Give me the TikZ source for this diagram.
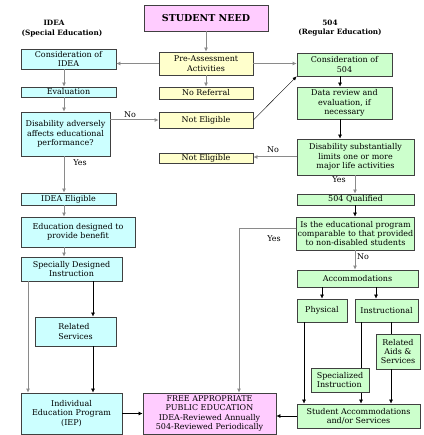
\documentclass[tikz,border=0pt]{standalone}
\usepackage{fontspec}
\setmainfont{DejaVu Serif}
\usetikzlibrary{arrows.meta}
\definecolor{cyanbox}{HTML}{CCFFFF}
\definecolor{yellowbox}{HTML}{FFFFCC}
\definecolor{greenbox}{HTML}{CCFFCC}
\definecolor{pinkbox}{HTML}{FFCCFF}
\definecolor{edge}{HTML}{404040}
\definecolor{linkgray}{HTML}{8A8A8A}

\begin{document}
\begin{tikzpicture}[x=1pt,y=-1pt,
  box/.style={draw=edge,line width=0.8pt,inner xsep=1pt,inner ysep=0.5pt,align=center,
    font=\fontsize{8}{9.3}\selectfont},
  ideabox/.style={box,fill=cyanbox},
  prebox/.style={box,fill=yellowbox},
  regbox/.style={box,fill=greenbox},
  fapebox/.style={box,fill=pinkbox},
  arrgray/.style={draw=linkgray,line width=1pt,-{Latex[length=4pt,width=4pt]}},
  arrblack/.style={draw=black,line width=0.6pt,-{Latex[length=4pt,width=4pt]}},
  lbl/.style={font=\fontsize{8}{9}\selectfont,inner sep=0pt},
  headtxt/.style={font=\bfseries\fontsize{7.3}{8.5}\selectfont,inner sep=0pt}]
  \useasboundingbox (0,0) rectangle (423,435);

  % columns for the connectors
  \coordinate (xL) at (64,0);
  \coordinate (xA) at (28,0);
  \coordinate (xB) at (93,0);
  \coordinate (xM) at (340,0);
  \coordinate (xR) at (355,0);
  \coordinate (xF) at (239,0);
  \coordinate (xP) at (304,0);
  \coordinate (xI) at (376,0);
  \coordinate (xS) at (361,0);
  \coordinate (xT) at (391,0);
  \coordinate (yYes) at (0,228);

  % headings
  \node[headtxt] (ideaHd) at (54,23) {IDEA};
  \node[headtxt] (ideaSub) at (62,33) {(Special Education)};
  \node[headtxt] (regHd) at (330,23) {504};
  \node[headtxt] (regSub) at (340,33) {(Regular Education)};

  % middle
  \node[fapebox,minimum width=124,minimum height=26,
    font=\bfseries\fontsize{9.5}{11}\selectfont] (need) at (206,18) {STUDENT NEED};
  \node[prebox,minimum width=94,minimum height=23] (pre) at (206,63.5) {Pre-Assessment\\Activities};
  \node[prebox,minimum width=94,minimum height=12] (noRef) at (206,93) {No Referral};
  \node[prebox,minimum width=94,minimum height=16] (notElA) at (206,120) {Not Eligible};
  \node[prebox,minimum width=94,minimum height=10] (notElB) at (206,158) {Not Eligible};
  \node[fapebox,minimum width=133,minimum height=41] (fape) at (209.5,413.5)
    {FREE APPROPRIATE\\PUBLIC EDUCATION\\IDEA-Reviewed Annually\\504-Reviewed Periodically};

  % IDEA side
  \node[ideabox,minimum width=95,minimum height=20] (consIdea) at (68.5,59) {Consideration of\\IDEA};
  \node[ideabox,minimum width=95,minimum height=10] (evalu) at (68.5,92) {Evaluation};
  \node[ideabox,minimum width=89,minimum height=44] (disA) at (65.5,134)
    {Disability adversely\\affects educational\\performance?};
  \node[ideabox,minimum width=95,minimum height=12] (ideaEl) at (68.5,199) {IDEA Eligible};
  \node[ideabox,minimum width=114,minimum height=30] (eduDes) at (78,232)
    {Education designed to\\provide benefit};
  \node[ideabox,minimum width=101,minimum height=24] (sdi) at (71.5,269)
    {Specially Designed\\Instruction};
  \node[ideabox,minimum width=81,minimum height=29,align=left] (relSrv) at (75.5,331.5)
    {Related\\Services};
  \node[ideabox,minimum width=101,minimum height=41] (iep) at (71.5,413.5)
    {Individual\\Education Program\\(IEP)};

  % 504 side
  \node[regbox,minimum width=95,minimum height=23] (cons504) at (344.5,64.5) {Consideration of\\504};
  \node[regbox,minimum width=95,minimum height=32] (dataRev) at (344.5,103)
    {Data review and\\evaluation, if\\necessary};
  \node[regbox,minimum width=117,minimum height=36] (disS) at (355.5,157)
    {Disability substantially\\limits one or more\\major life activities};
  \node[regbox,minimum width=117,minimum height=11] (q504) at (355.5,199.5) {504 Qualified};
  \node[regbox,minimum width=117,minimum height=33] (isEdu) at (355.5,233.5)
    {Is the educational program\\comparable to that provided\\to non-disabled students};
  \node[regbox,minimum width=121,minimum height=17] (accom) at (357.5,278.5) {Accommodations};
  \node[regbox,minimum width=50,minimum height=23] (phys) at (322,310.5) {Physical};
  \node[regbox,minimum width=63,minimum height=23] (instr) at (386.5,310.5) {Instructional};
  \node[regbox,minimum width=44,minimum height=35] (relAids) at (398,351.5) {Related\\Aids \&\\Services};
  \node[regbox,minimum width=123,minimum height=24] (stuAcc) at (358.5,416)
    {Student Accommodations\\and/or Services};

  % connectors
  \draw[arrgray] (need) -- (pre);
  \draw[arrgray] (pre.west) -- (pre.west -| consIdea.east);
  \draw[arrgray] (pre.east) -- (pre.east -| cons504.west);
  \draw[arrgray] (pre) -- (noRef);
  \draw[arrgray] (disA.east |- notElA.west) -- (notElA.west);
  \node[lbl] (noA) at (130,115) {No};
  \draw[line width=0.4pt,-{Latex[length=4pt,width=3.5pt]}] (notElA.east) -- (cons504.south west);

  \draw[arrgray] (consIdea.south -| xL) -- (evalu.north -| xL);
  \draw[arrgray] (evalu.south -| xL) -- (disA.north -| xL);
  \draw[arrgray] (disA.south -| xL) -- (ideaEl.north -| xL);
  \node[lbl] (yesA) at (80,163) {Yes};
  \draw[arrgray] (ideaEl.south -| xL) -- (eduDes.north -| xL);
  \draw[arrgray] (eduDes.south -| xL) -- (sdi.north -| xL);
  \draw[arrgray] (sdi.south -| xA) -- (iep.north -| xA);
  \draw[arrblack] (sdi.south -| xB) -- (relSrv.north -| xB);
  \draw[arrblack] (relSrv.south -| xB) -- (iep.north -| xB);
  \draw[arrblack] (iep.east) -- (fape.west);

  \draw[arrblack] (cons504.south -| xM) -- (dataRev.north -| xM);
  \draw[arrblack] (dataRev.south -| xM) -- (disS.north -| xM);
  \draw[arrgray] (disS.west) -- (disS.west -| notElB.east);
  \node[lbl] (noB) at (273,150) {No};
  \draw[arrgray] (disS.south -| xR) -- (q504.north -| xR);
  \node[lbl] (yesB) at (339,180) {Yes};
  \draw[arrblack] (q504.south -| xR) -- (isEdu.north -| xR);
  \draw[arrgray] (isEdu.south -| xR) -- (accom.north -| xR);
  \node[lbl,anchor=west] (noC) at (357,257) {No};
  \draw[arrgray] (isEdu.west |- yYes) -| (fape.north -| xF);
  \node[lbl] (yesC) at (274,239) {Yes};

  \draw[arrblack] (accom.south -| phys.north) -- (phys.north);
  \draw[arrblack] (accom.south -| xI) -- (instr.north -| xI);
  \draw[arrblack] (phys.south -| xP) -- (stuAcc.north -| xP);
  \draw[arrblack] (instr.south -| xS) -- (stuAcc.north -| xS);
  \draw[draw=black,line width=0.6pt] (instr.south -| xT) -- (relAids.north -| xT);
  \draw[arrblack] (relAids.south -| xT) -- (stuAcc.north -| xT);
  \draw[arrblack] (stuAcc.west) -- (stuAcc.west -| fape.east);

  \node[regbox,minimum width=58,minimum height=24,align=left] (specI) at (340,380)
    {Specialized\\Instruction};
\end{tikzpicture}
\end{document}
